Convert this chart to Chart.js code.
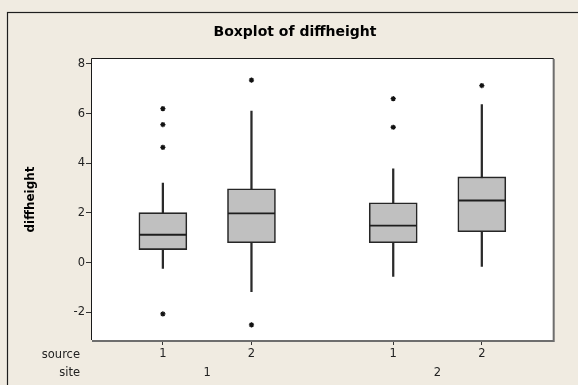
<!DOCTYPE html>
<html>
<head>
<meta charset="utf-8">
<script src="https://cdn.jsdelivr.net/npm/chart.js@4.4.1/dist/chart.umd.min.js"></script>
<style>
  html, body { margin: 0; padding: 0; background: #F0EBE1; }
  canvas { display: block; }
</style>
</head>
<body>
<canvas id="c" width="578" height="385"></canvas>
<script>
// ---- data ----
const siteLabels   = ['1', '2'];
const sourceLabels = ['1', '2'];
const q1          = [0.52, 0.80, 0.80, 1.24];
const median      = [1.12, 1.98, 1.49, 2.50];
const q3          = [2.01, 2.97, 2.41, 3.45];
const whiskerLow  = [-0.24, -1.17, -0.56, -0.16];
const whiskerHigh = [3.20, 6.10, 3.78, 6.36];
const outliers    = [[6.20, 5.56, 4.64, -2.07], [7.35, -2.51], [6.60, 5.45], [7.13]];
const yTicks      = [-2, 0, 2, 4, 6, 8];

// ---- layout of the groups (site groups, source within site) ----
const GROUP_STEP = 2.6;
const pos = [];
const groupCenters = [];
siteLabels.forEach((s, si) => {
  const members = [];
  sourceLabels.forEach((r, ri) => {
    const p = 1 + si * GROUP_STEP + ri;
    pos.push(p); members.push(p);
  });
  groupCenters.push((members[0] + members[members.length - 1]) / 2);
});

const FONT = 'DejaVu Sans';
const whiskerData = pos.map((p, i) => ({ x: p, y: [whiskerLow[i], whiskerHigh[i]] }));
const boxData     = pos.map((p, i) => ({ x: p, y: [q1[i], q3[i]] }));
const medianData  = pos.map((p, i) => ({ x: p, y: median[i] }));
const outlierData = [];
outliers.forEach((arr, i) => arr.forEach(v => outlierData.push({ x: pos[i], y: v })));

const framePlugin = {
  id: 'frame',
  beforeDraw(chart) {
    const ctx = chart.ctx, a = chart.chartArea;
    ctx.save();
    ctx.fillStyle = '#F0EBE1';
    ctx.fillRect(0, 0, chart.width, chart.height);
    ctx.strokeStyle = '#1e1e1e';
    ctx.lineWidth = 1.2;
    ctx.strokeRect(7.5, 12.5, chart.width + 20, chart.height + 20);
    ctx.fillStyle = '#FFFFFF';
    ctx.fillRect(a.left, a.top, a.right - a.left, a.bottom - a.top);
    ctx.restore();
  },
  afterDraw(chart) {
    const ctx = chart.ctx, a = chart.chartArea;
    ctx.save();
    // plot border: right/bottom grey shadow, left/top dark
    ctx.strokeStyle = '#6e6e6e';
    ctx.lineWidth = 2;
    ctx.beginPath();
    ctx.moveTo(a.right + 1, a.top);
    ctx.lineTo(a.right + 1, a.bottom + 1);
    ctx.lineTo(a.left, a.bottom + 1);
    ctx.stroke();
    ctx.strokeStyle = '#1a1a1a';
    ctx.lineWidth = 1;
    ctx.beginPath();
    ctx.moveTo(a.left - 0.5, a.bottom);
    ctx.lineTo(a.left - 0.5, a.top - 0.5);
    ctx.lineTo(a.right + 1, a.top - 0.5);
    ctx.stroke();
    // title
    ctx.fillStyle = '#000';
    ctx.font = 'bold 14px ' + FONT;
    ctx.textAlign = 'center';
    ctx.textBaseline = 'middle';
    ctx.fillText('Boxplot of diffheight', 295, 32.5);
    // row captions
    ctx.font = '11.5px ' + FONT;
    ctx.fillStyle = '#222';
    ctx.textAlign = 'right';
    ctx.fillText('source', 80, 355);
    ctx.fillText('site', 80, 373);
    ctx.restore();
  }
};

new Chart(document.getElementById('c'), {
  type: 'bar',
  data: {
    datasets: [
      { label: 'whisker', data: whiskerData, grouped: false, barThickness: 1.6,
        backgroundColor: '#2a2a2a', borderWidth: 0, order: 3, xAxisID: 'x' },
      { label: 'box', data: boxData, grouped: false, barThickness: 48,
        backgroundColor: '#C0C0C0', borderColor: '#262626', borderWidth: 1.6,
        borderSkipped: false, order: 2, xAxisID: 'x' },
      { type: 'scatter', label: 'median', data: medianData, pointStyle: 'line',
        pointRadius: 23.5, borderColor: '#1e1e1e', borderWidth: 1.8, order: 1, xAxisID: 'x' },
      { type: 'scatter', label: 'outlier', data: outlierData, pointStyle: 'star',
        pointRadius: 2.6, borderColor: '#111', borderWidth: 1.3, order: 0, xAxisID: 'x' }
    ]
  },
  options: {
    responsive: false,
    devicePixelRatio: 1,
    animation: false,
    events: [],
    layout: { padding: { left: 0, top: 59, right: 24, bottom: 0 } },
    plugins: { legend: { display: false }, tooltip: { enabled: false }, title: { display: false } },
    scales: {
      x: {
        type: 'linear', min: 0.2, max: 5.4, offset: false, weight: 0,
        grid: { offset: false, drawOnChartArea: false, tickLength: 5, color: '#333', lineWidth: 1 },
        border: { display: false },
        afterBuildTicks: s => { s.ticks = pos.map(v => ({ value: v })); },
        afterFit: s => { s.height = 23; },
        ticks: { autoSkip: false, maxRotation: 0, padding: 2, color: '#222',
                 font: { family: FONT, size: 11.5 },
                 callback: (v, i) => sourceLabels[i % sourceLabels.length] }
      },
      x2: {
        type: 'linear', position: 'bottom', min: 0.2, max: 5.4, offset: false, weight: 1,
        grid: { display: false, drawTicks: false },
        border: { display: false },
        afterBuildTicks: s => { s.ticks = groupCenters.map(v => ({ value: v })); },
        afterFit: s => { s.height = 22; },
        ticks: { autoSkip: false, maxRotation: 0, padding: 3, color: '#222',
                 font: { family: FONT, size: 11.5 },
                 callback: (v, i) => siteLabels[i] }
      },
      y: {
        type: 'linear', min: -3.12, max: 8.2,
        grid: { drawOnChartArea: false, tickLength: 6, color: '#333', lineWidth: 1 },
        border: { display: false },
        afterBuildTicks: s => { s.ticks = yTicks.map(v => ({ value: v })); },
        afterFit: s => { s.width = 92; },
        ticks: { padding: 1, color: '#222', font: { family: FONT, size: 11.5 },
                 callback: v => String(v) },
        title: { display: true, text: 'diffheight', color: '#000',
                 font: { family: FONT, size: 12, weight: 'bold' },
                 padding: { top: 24, bottom: 0 } }
      }
    }
  },
  plugins: [framePlugin]
});
</script>
</body>
</html>
